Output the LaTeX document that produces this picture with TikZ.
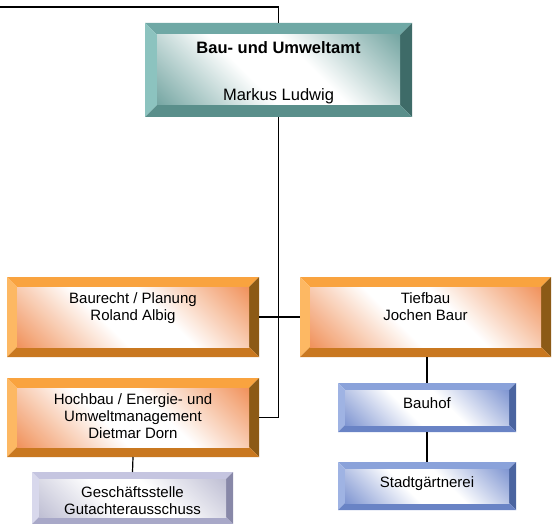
\documentclass[tikz,border=0pt]{standalone}
\usepackage{fontspec}
\setmainfont{Liberation Sans}
\usetikzlibrary{positioning}

% bevel colours: T top, L left, R right, B bottom, I inner corner
\definecolor{tealT}{HTML}{6FA8A5}
\definecolor{tealL}{HTML}{8CC3BF}
\definecolor{tealR}{HTML}{3E6B68}
\definecolor{tealB}{HTML}{5A8F8B}
\definecolor{tealI}{HTML}{5E9793}
\definecolor{orangeT}{HTML}{F9A33F}
\definecolor{orangeL}{HTML}{FDB863}
\definecolor{orangeR}{HTML}{8C5A16}
\definecolor{orangeB}{HTML}{C97820}
\definecolor{orangeI}{HTML}{EE8040}
\definecolor{blueT}{HTML}{8AA2DA}
\definecolor{blueL}{HTML}{9FB3E3}
\definecolor{blueR}{HTML}{4A64A0}
\definecolor{blueB}{HTML}{6983C5}
\definecolor{blueI}{HTML}{6A84CA}
\definecolor{greyT}{HTML}{C5C5E0}
\definecolor{greyL}{HTML}{D8D8EC}
\definecolor{greyR}{HTML}{8888A8}
\definecolor{greyB}{HTML}{A8A8C8}
\definecolor{greyI}{HTML}{B4B4CC}

% inner face: colour in two corners, white across the middle
\colorlet{bevelI}{orangeI}
\pgfdeclarehorizontalshading[bevelI]{bevelshade}{100bp}{color(0bp)=(bevelI);
  color(10bp)=(bevelI); color(42bp)=(white); color(58bp)=(white);
  color(90bp)=(bevelI); color(100bp)=(bevelI)}

\begin{document}
\begin{tikzpicture}[x=1pt, y=-1pt,
    every node/.style={inner sep=0pt, outer sep=0pt, align=center,
      font=\fontsize{15}{17}\selectfont},
    conn/.style={draw, line width=1.2pt},
    bevel/.style n args={4}{rectangle, minimum width=#3pt, minimum height=#4pt,
      path picture={
        \coordinate (nw) at (path picture bounding box.north west);
        \coordinate (ne) at (path picture bounding box.north east);
        \coordinate (sw) at (path picture bounding box.south west);
        \coordinate (se) at (path picture bounding box.south east);
        \coordinate (inw) at ([shift={(#2pt,-#2pt)}]nw);
        \coordinate (ine) at ([shift={(-#2pt,-#2pt)}]ne);
        \coordinate (isw) at ([shift={(#2pt,#2pt)}]sw);
        \coordinate (ise) at ([shift={(-#2pt,#2pt)}]se);
        \fill[#1T] (nw) -- (ne) -- (ine) -- (inw) -- cycle;
        \fill[#1L] (nw) -- (inw) -- (isw) -- (sw) -- cycle;
        \fill[#1R] (ne) -- (se) -- (ise) -- (ine) -- cycle;
        \fill[#1B] (sw) -- (isw) -- (ise) -- (se) -- cycle;
        \colorlet{bevelI}{#1I}
        \shade[shading=bevelshade, shading angle=45] (inw) rectangle (ise);
      }}]

  \useasboundingbox (0,0) rectangle (552,524);

  % boxes
  \node[bevel={teal}{12}{267}{94}]   (amt)      at (278.5, 70) {};
  \node[bevel={orange}{10}{252}{80}] (baurecht) at (133, 317) {};
  \node[bevel={orange}{10}{252}{79}] (hochbau)  at (133, 417.5) {};
  \node[bevel={orange}{10}{251}{80}] (tiefbau)  at (425.5, 317) {};
  \node[bevel={blue}{7}{178}{49}]    (bauhof)   at (427, 407.5) {};
  \node[bevel={blue}{7}{178}{48}]    (stadt)    at (427, 486) {};
  \node[bevel={grey}{7}{201}{52}]    (gs)       at (132.5, 498) {};

  % texts
  \node[below=19pt of amt.north, font=\fontsize{16.5}{19}\selectfont] (amtText)
    {\textbf{Bau- und Umweltamt}\\[28pt]Markus Ludwig};
  \node[below=15.5pt of baurecht.north] (baurechtText) {Baurecht / Planung\\Roland Albig};
  \node[below=15.5pt of hochbau.north] (hochbauText)
    {Hochbau / Energie- und\\Umweltmanagement\\Dietmar Dorn};
  \node[below=15.5pt of tiefbau.north] (tiefbauText) {Tiefbau\\Jochen Baur};
  \node[below=14.5pt of bauhof.north] (bauhofText) {Bauhof};
  \node[below=14.5pt of stadt.north] (stadtText) {Stadtgärtnerei};
  \node[below=14.5pt of gs.north] (gsText) {Geschäftsstelle\\Gutachterausschuss};

  % connectors
  \coordinate (top) at (0, 7);
  \draw[conn] (top) -| (amt.north);
  \draw[conn] (amt.south) |- (hochbau.east);
  \draw[conn] (baurecht.east) -- (tiefbau.west);
  \draw[conn] (hochbau.south) -- (gs.north);
  \draw[conn] (bauhof.north) -- (bauhof.north |- tiefbau.south);
  \draw[conn] (bauhof.south) -- (stadt.north);

\end{tikzpicture}
\end{document}
